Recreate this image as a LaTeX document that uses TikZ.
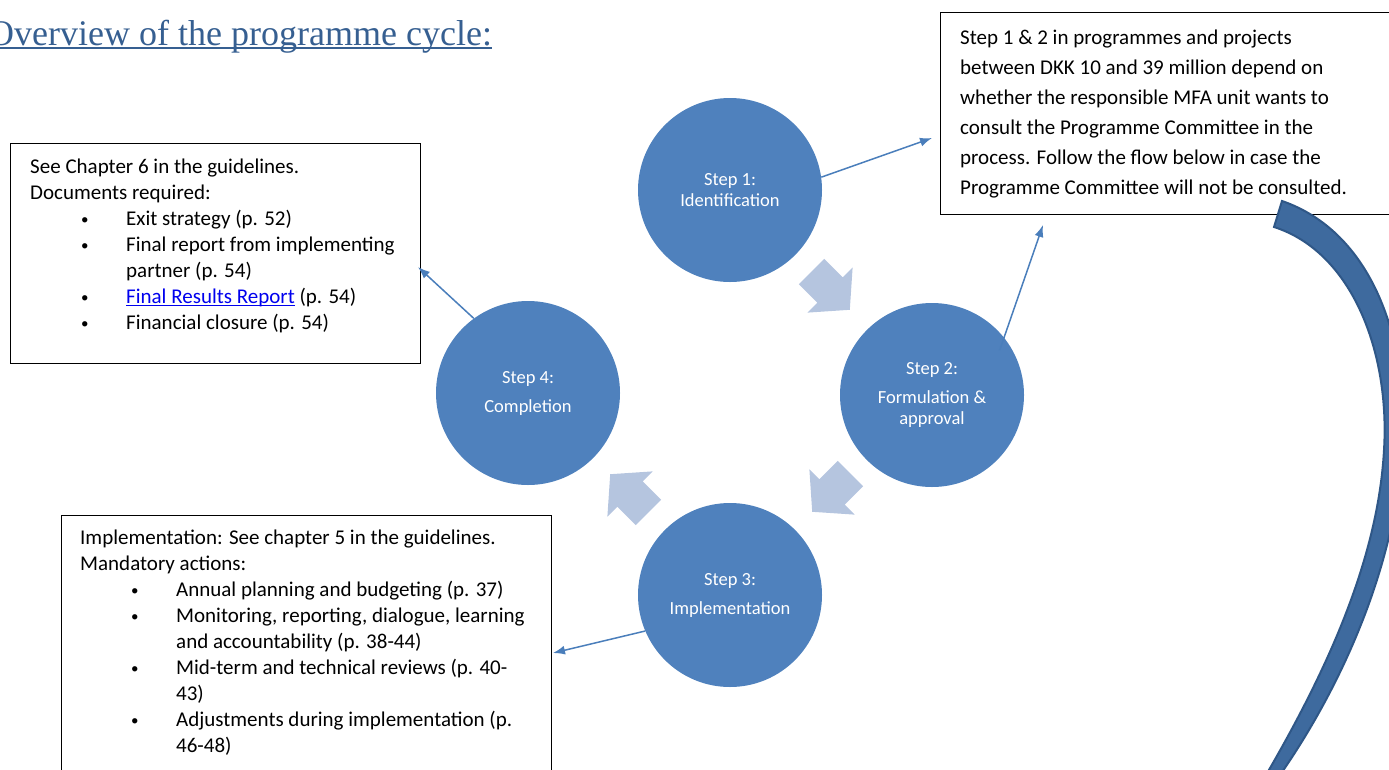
\documentclass[tikz,border=0pt]{standalone}
\usepackage{fontspec}
\setmainfont{Carlito}
\newfontfamily\headfont{Liberation Serif}
\usetikzlibrary{arrows.meta,positioning}
\definecolor{stepblue}{RGB}{79,129,189}
\definecolor{lineblue}{RGB}{74,126,187}
\definecolor{headblue}{RGB}{54,95,145}
\definecolor{linkblue}{RGB}{0,0,238}
\definecolor{paleblue}{RGB}{181,197,223}
\definecolor{ribbonblue}{RGB}{62,106,158}
\definecolor{ribbonedge}{RGB}{47,87,135}
\newcommand{\bul}[1]{\makebox[45pt][l]{\raisebox{1pt}{\fontsize{15}{15}\selectfont\textbullet}}#1}
\newcommand{\weblink}[1]{\textcolor{linkblue}{\underline{\smash{#1}}}}

\begin{document}
\begin{tikzpicture}[
  x=1pt, y=-1pt,
  stepcircle/.style={circle, fill=stepblue, minimum size=184pt, inner sep=0pt,
    text=white, align=center, font=\fontsize{18.5}{21}\selectfont},
  infobox/.style={draw, line width=1.3pt, anchor=north west, inner sep=0pt},
  boxtext/.style={anchor=north west, inner sep=0pt, align=left},
  link/.style={-{Latex[length=12pt,width=9pt]}, lineblue, line width=1.5pt},
  bigarrow/.style={fill=paleblue}
]
  \useasboundingbox (0,0) rectangle (1389,769);

  % title
  \node[anchor=base west, inner sep=0pt, text=headblue,
    font=\headfont\fontsize{36}{40}\selectfont] (title) at (-12,45)
    {Overview of the programme cycle:};
  \draw[headblue, line width=2pt] ([yshift=-3pt]title.base west) -- ([yshift=-3pt]title.base east);

  % the four steps
  \node[stepcircle] (s1) at (730,190) {Step 1:\\Identification};
  \node[stepcircle] (s2) at (932,395) {Step 2:\\[8pt]Formulation \&\\approval};
  \node[stepcircle] (s3) at (730,595) {Step 3:\\[8pt]Implementation};
  \node[stepcircle] (s4) at (528,393) {Step 4:\\[8pt]Completion};

  % block arrows between steps
  \foreach \px/\py/\ang in {830/290/-45, 832/492/-135, 630/494/135} {
    \begin{scope}[shift={(\px,\py)}, rotate=\ang]
      \fill[bigarrow] (-26,-18) -- (0,-18) -- (0,-32) -- (28,0) -- (0,32) -- (0,18) -- (-26,18) -- cycle;
    \end{scope}
  }

  % text boxes
  \node[infobox, minimum width=480pt, minimum height=202pt] (rbox) at (940,12) {};
  \node[boxtext, below right=18pt and 20pt of rbox.north west, font=\fontsize{21}{30}\selectfont] (rtext)
    {Step 1 \& 2 in programmes and projects\\
     between DKK 10 and 39 million depend on\\
     whether the responsible MFA unit wants to\\
     consult the Programme Committee in the\\
     process. Follow the flow below in case the\\
     Programme Committee will not be consulted.};

  \node[infobox, minimum width=410pt, minimum height=220pt] (lbox) at (10,143) {};
  \node[boxtext, below right=16pt and 20pt of lbox.north west, font=\fontsize{21}{26}\selectfont] (ltext)
    {See Chapter 6 in the guidelines.\\
     Documents required:\\
     \hspace*{51pt}\bul{Exit strategy (p. 52)}\\
     \hspace*{51pt}\bul{Final report from implementing}\\
     \hspace*{96pt}partner (p. 54)\\
     \hspace*{51pt}\bul{\weblink{Final Results Report} (p. 54)}\\
     \hspace*{51pt}\bul{Financial closure (p. 54)}};

  \node[infobox, minimum width=490pt, minimum height=290pt] (bbox) at (61,515) {};
  \node[boxtext, below right=15pt and 19pt of bbox.north west, font=\fontsize{21}{26}\selectfont] (btext)
    {Implementation: See chapter 5 in the guidelines.\\
     Mandatory actions:\\
     \hspace*{51pt}\bul{Annual planning and budgeting (p. 37)}\\
     \hspace*{51pt}\bul{Monitoring, reporting, dialogue, learning}\\
     \hspace*{96pt}and accountability (p. 38-44)\\
     \hspace*{51pt}\bul{Mid-term and technical reviews (p. 40-}\\
     \hspace*{96pt}43)\\
     \hspace*{51pt}\bul{Adjustments during implementation (p.}\\
     \hspace*{96pt}46-48)};

  % connectors
  \coordinate (toR) at (932,138);
  \coordinate (toRlow) at (1043,225);
  \coordinate (toL) at (418,267);
  \coordinate (toB) at (553,653);
  \draw[link] (s1.8) -- (toR);
  \draw[link] ([shift={(-5,12)}]s2.38) -- (toRlow);
  \draw[link] (s4.126) -- (toL);
  \draw[link] (s3.203) -- (toB);

  % big curved arrow on the right
  \filldraw[fill=ribbonblue, draw=ribbonedge, line width=2pt]
    (1282,201) .. controls (1372,232) and (1410,340) .. (1402,450)
    .. controls (1396,560) and (1346,680) .. (1280,775)
    -- (1266,775)
    .. controls (1326,672) and (1378,560) .. (1384,450)
    .. controls (1390,352) and (1352,252) .. (1274,227) -- cycle;
\end{tikzpicture}
\end{document}
